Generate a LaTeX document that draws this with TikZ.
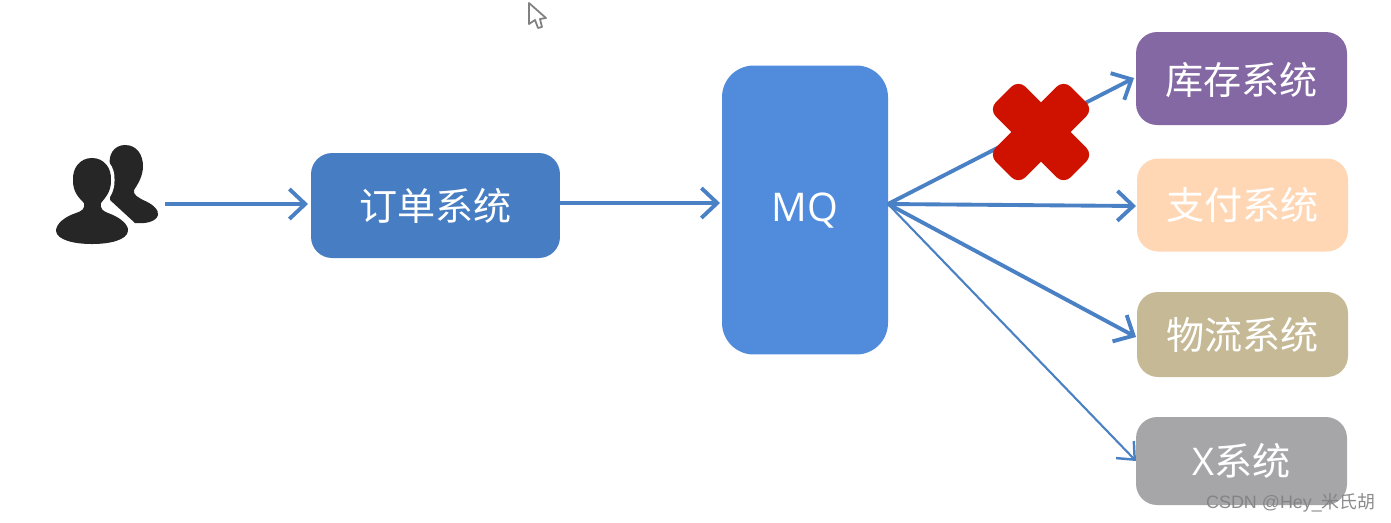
\documentclass[tikz,border=0pt]{standalone}
\usepackage{fontspec}
\setmainfont{Open Sans}
\newfontfamily\cjk{Noto Sans CJK SC}
\newfontfamily\wmfont{Liberation Sans}
\usetikzlibrary{arrows.meta}
\definecolor{lineblue}{HTML}{4A80C4}
\definecolor{orderblue}{HTML}{477DC2}
\definecolor{mqblue}{HTML}{508BDC}
\definecolor{stockpurple}{HTML}{8468A3}
\definecolor{paypeach}{HTML}{FFD7B5}
\definecolor{shiptan}{HTML}{C6B996}
\definecolor{xgrey}{HTML}{A6A5A8}
\definecolor{crossred}{HTML}{CF1200}
\definecolor{usergrey}{HTML}{262626}
\tikzset{
  sysbox/.style={rounded corners=12pt,text=white,inner sep=0pt,font=\fontsize{21.7}{26}\selectfont\cjk},
  flow/.style={lineblue,line width=2.2pt,-{Straight Barb[length=9pt,width=17pt,line width=2.2pt]}},
  crossarm/.style={fill=crossred,rounded corners=5.7pt,minimum width=2.12cm,minimum height=.84cm,inner sep=0pt,rotate=#1}
}
\begin{document}
\begin{tikzpicture}[x=.02cm,y=-.02cm]
  \useasboundingbox (0,0) rectangle (1391,522);

  \node[sysbox,fill=orderblue,minimum width=4.98cm,minimum height=2.1cm] (order) at (435.5,205.5) {订单系统};
  \node[sysbox,fill=mqblue,minimum width=3.32cm,minimum height=5.78cm,rounded corners=18pt] (mq) at (805,210) {\raisebox{-6.8pt}[0pt][0pt]{\fontspec{Open Sans}\fontsize{22.5}{26}\selectfont MQ}};
  \node[sysbox,fill=stockpurple,minimum width=4.22cm,minimum height=1.86cm] (stock) at (1241.5,78.5) {\raisebox{-9pt}[0pt][0pt]{库存系统}};
  \node[sysbox,fill=paypeach,minimum width=4.22cm,minimum height=1.86cm] (pay) at (1242.5,205) {支付系统};
  \node[sysbox,fill=shiptan,minimum width=4.22cm,minimum height=1.7cm] (ship) at (1242.5,334.5) {物流系统};
  \node[sysbox,fill=xgrey,minimum width=4.22cm,minimum height=1.76cm] (xsys) at (1241.5,461) {{\fontspec{Open Sans}\fontsize{21.7}{26}\selectfont X}系统};

  \coordinate (userout) at (165,204);
  \coordinate (mqout) at (888,204);
  \coordinate (orderin) at (308,204);
  \coordinate (mqin) at (720,203);
  \coordinate (orderout) at (560,203);
  \coordinate (stockin) at (1134,78);
  \coordinate (payin) at (1136,206);
  \coordinate (shipin) at (1136,337);
  \coordinate (xin) at (1136,461);

  \draw[flow] (userout)--(orderin);
  \draw[flow] (orderout)--(mqin);
  \draw[flow] (mqout)--(stockin);
  \draw[flow] (mqout)--(payin);
  \draw[flow] (mqout)--(shipin);
  \draw[lineblue,line width=1.2pt,-{Straight Barb[length=8pt,width=14pt,line width=1.4pt]}] (mqout)--(xin);

  \node[crossarm=45] (crossa) at (1041,132) {};
  \node[crossarm=-45] (crossb) at (1041,132) {};

  \fill[usergrey] (125,145) .. controls (137,145) and (143,155) .. (143,166)
    .. controls (143,176) and (138,184) .. (134,190) .. controls (133,195) and (138,197) .. (143,200)
    .. controls (153,204) and (159,210) .. (158,215) .. controls (156,222) and (145,224) .. (135,223)
    -- (110,200) -- (110,165) .. controls (108,155) and (114,145) .. (125,145) -- cycle;
  \fill[usergrey,preaction={draw=white,line width=4pt}] (92,158) .. controls (104,158) and (112,168) .. (111,181)
    .. controls (111,192) and (105,198) .. (101,203) .. controls (100,209) and (103,211) .. (108,213)
    .. controls (120,217) and (129,225) .. (128,231) .. controls (127,240) and (110,244) .. (92,244)
    .. controls (74,244) and (57,240) .. (56,231) .. controls (56,224) and (64,217) .. (76,213)
    .. controls (82,211) and (85,209) .. (84,203) .. controls (79,198) and (73,192) .. (73,181)
    .. controls (72,168) and (80,158) .. (92,158) -- cycle;

  \draw[gray,line width=1pt,line join=round,fill=white] (529,3) -- (529,24) -- (535,20) -- (538,28) -- (542,27) -- (540,19) -- (546,18) -- cycle;

  \node[text=gray,opacity=.9,inner sep=0pt,anchor=east,font=\fontsize{10.2}{12}\selectfont] (wmark) at (1376,503) {\wmfont CSDN @Hey\_\cjk 米氏胡};
\end{tikzpicture}
\end{document}
